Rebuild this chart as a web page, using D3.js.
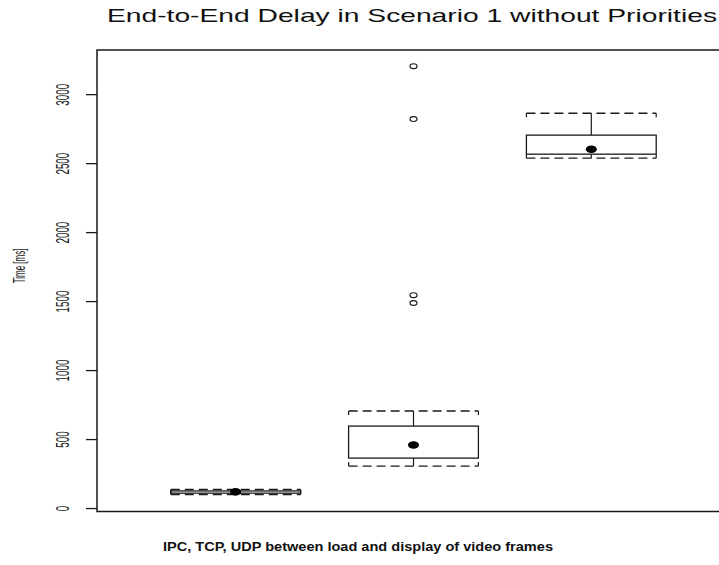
<!DOCTYPE html>
<html>
<head>
<meta charset="utf-8">
<script src="https://cdn.jsdelivr.net/npm/d3@7"></script>
<style>
  body { margin: 0; background: #fff; }
  svg { display: block; }
</style>
</head>
<body>
<script>
// Values
var categories = ["IPC", "TCP", "UDP"];
var lowerWhisker = [98, 304, 2536];
var q1 = [108, 362, 2565];
var middle = [117, 457, 2601];   // drawn as a filled dot
var q3 = [124, 594, 2703];
var upperWhisker = [134, 703, 2862];
var outliers = [[], [1486, 1543, 2819, 3203], []];
var yTicks = [0, 500, 1000, 1500, 2000, 2500, 3000];

var width = 719, height = 565;
var plot = { left: 97, right: 730, top: 50, bottom: 511.5 };

var svg = d3.select("body").append("svg")
    .attr("width", width)
    .attr("height", height);

var x = d3.scaleLinear()
    .domain([0.22, 3.78])
    .range([plot.left, plot.right]);

var y = d3.scaleLinear()
    .domain([-25, 3320])
    .range([plot.bottom, plot.top]);

var ink = "#1a1a1a";
var halfBox = 0.365;

// frame (right edge runs off the scan)
svg.append("rect")
    .attr("x", plot.left)
    .attr("y", plot.top)
    .attr("width", plot.right - plot.left)
    .attr("height", plot.bottom - plot.top)
    .attr("fill", "none")
    .attr("stroke", ink)
    .attr("stroke-width", 1.5);

// y axis, labels in a tall condensed face
var yAxis = d3.axisLeft(y)
    .tickValues(yTicks)
    .tickFormat(d3.format("d"))
    .tickSize(11)
    .tickPadding(14);

var gy = svg.append("g")
    .attr("transform", "translate(" + plot.left + ",0)")
    .call(yAxis);
gy.select(".domain").remove();
gy.selectAll(".tick line").attr("stroke", ink).attr("stroke-width", 1.3);
gy.selectAll(".tick text")
    .attr("font-family", "'Liberation Sans', Arial, sans-serif")
    .attr("font-size", 19)
    .attr("fill", ink)
    .attr("text-anchor", "middle")
    .attr("x", null)
    .attr("dy", null)
    .attr("transform", "translate(-35,0) rotate(-90) scale(0.52,1)")
    .attr("dominant-baseline", "central");

// boxes
var boxes = svg.append("g").selectAll("g")
    .data(categories.map(function(c, i) {
        return { cat: c, i: i + 1, lo: lowerWhisker[i], q1: q1[i], mid: middle[i], q3: q3[i], hi: upperWhisker[i], out: outliers[i] };
    }))
    .enter().append("g");

// whisker caps (dashed) with small end ticks
function cap(sel, key, dir) {
    sel.append("line")
        .attr("x1", function(d) { return x(d.i - halfBox); })
        .attr("x2", function(d) { return x(d.i + halfBox); })
        .attr("y1", function(d) { return y(d[key]); })
        .attr("y2", function(d) { return y(d[key]); })
        .attr("stroke", ink)
        .attr("stroke-width", 1.4)
        .attr("stroke-dasharray", "9,5");
    [-halfBox, halfBox].forEach(function(off) {
        sel.append("line")
            .attr("x1", function(d) { return x(d.i + off); })
            .attr("x2", function(d) { return x(d.i + off); })
            .attr("y1", function(d) { return y(d[key]); })
            .attr("y2", function(d) { return y(d[key]) + dir * 4; })
            .attr("stroke", ink)
            .attr("stroke-width", 1.2);
    });
}
cap(boxes, "hi", 1);
cap(boxes, "lo", -1);

// whisker stems
boxes.append("line")
    .attr("x1", function(d) { return x(d.i); })
    .attr("x2", function(d) { return x(d.i); })
    .attr("y1", function(d) { return y(d.hi); })
    .attr("y2", function(d) { return y(d.q3); })
    .attr("stroke", ink)
    .attr("stroke-width", 1.2);
boxes.append("line")
    .attr("x1", function(d) { return x(d.i); })
    .attr("x2", function(d) { return x(d.i); })
    .attr("y1", function(d) { return y(d.lo); })
    .attr("y2", function(d) { return y(d.q1); })
    .attr("stroke", ink)
    .attr("stroke-width", 1.2);

boxes.append("rect")
    .attr("x", function(d) { return x(d.i - halfBox); })
    .attr("width", function(d) { return x(d.i + halfBox) - x(d.i - halfBox); })
    .attr("y", function(d) { return y(d.q3); })
    .attr("height", function(d) { return y(d.q1) - y(d.q3); })
    .attr("fill", "none")
    .attr("stroke", ink)
    .attr("stroke-width", 1.3);

boxes.append("ellipse")
    .attr("cx", function(d) { return x(d.i); })
    .attr("cy", function(d) { return y(d.mid); })
    .attr("rx", 5.5)
    .attr("ry", 3.8)
    .attr("fill", "#000");

boxes.selectAll(".out")
    .data(function(d) { return d.out.map(function(v) { return { i: d.i, v: v }; }); })
    .enter().append("ellipse")
    .attr("class", "out")
    .attr("cx", function(d) { return x(d.i); })
    .attr("cy", function(d) { return y(d.v); })
    .attr("rx", 3.5)
    .attr("ry", 2.4)
    .attr("fill", "none")
    .attr("stroke", ink)
    .attr("stroke-width", 1.2);

// title and axis labels
svg.append("text")
    .attr("x", 107)
    .attr("y", 22)
    .attr("font-family", "'Liberation Sans', Arial, sans-serif")
    .attr("font-size", 18.5)
    .attr("fill", "#111")
    .attr("textLength", 610)
    .attr("lengthAdjust", "spacingAndGlyphs")
    .text("End-to-End Delay in Scenario 1 without Priorities");

svg.append("text")
    .attr("x", 163)
    .attr("y", 551)
    .attr("font-family", "'Liberation Sans', Arial, sans-serif")
    .attr("font-weight", "bold")
    .attr("font-size", 12.5)
    .attr("fill", "#111")
    .attr("textLength", 390)
    .attr("lengthAdjust", "spacingAndGlyphs")
    .text("IPC, TCP, UDP between load and display of video frames");

svg.append("text")
    .attr("transform", "translate(20,266) rotate(-90) scale(0.5,1)")
    .attr("text-anchor", "middle")
    .attr("dominant-baseline", "central")
    .attr("font-family", "'Liberation Sans', Arial, sans-serif")
    .attr("font-size", 16)
    .attr("fill", ink)
    .text("Time [ms]");
</script>
</body>
</html>
